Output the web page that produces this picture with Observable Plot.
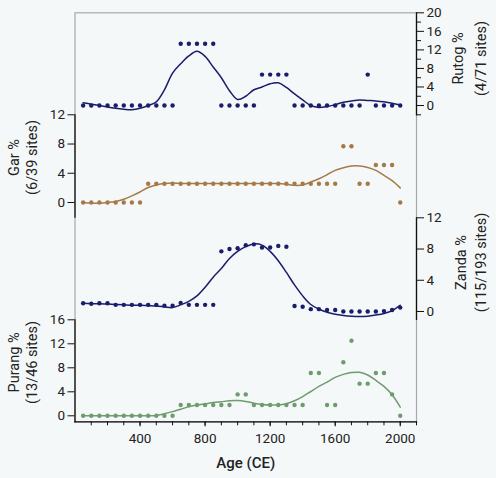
<!DOCTYPE html>
<html><head><meta charset="utf-8">
<script src="https://cdn.jsdelivr.net/npm/d3@7"></script>
<script src="https://cdn.jsdelivr.net/npm/@observablehq/plot@0.6"></script>
<style>
body{margin:0;background:#f5f8f8;}
#chart{position:relative;width:496px;height:478px;background:#f5f8f8;font-family:Roboto,sans-serif;}
#chart svg{position:absolute;left:0;top:0;background:transparent;}
</style></head><body><div id="chart"></div>
<script>
const years = [50,100,150,200,250,300,350,400,450,500,550,600,650,700,750,800,850,900,950,1000,
  1050,1100,1150,1200,1250,1300,1350,1400,1450,1500,1550,1600,1650,1700,1750,1800,1850,1900,1950,2000];

const rutogPct = [0,0,0,0,0,0,0,0,0,0,0,0,13.33,13.33,13.33,13.33,13.33,0,0,0,
  0,0,6.67,6.67,6.67,6.67,0,0,0,0,0,0,0,0,0,6.67,0,0,0,0];
const rutogFit = [0.6,0.3,0.0,-0.3,-0.6,-0.8,-0.9,-0.6,0.0,0.8,3.4,7.0,9.0,10.7,11.7,10.6,8.3,6.0,3.2,1.3,
  2.0,3.4,4.0,4.7,4.9,3.9,2.5,1.2,0.0,-0.4,-0.2,0.2,0.7,1.0,1.2,1.1,1.0,0.8,0.5,0.1];

const garPct = [0,0,0,0,0,0,0,0,2.56,2.56,2.56,2.56,2.56,2.56,2.56,2.56,2.56,2.56,2.56,2.56,
  2.56,2.56,2.56,2.56,2.56,2.56,2.56,2.56,2.56,2.56,2.56,2.56,7.69,7.69,2.56,2.56,5.13,5.13,5.13,0];
const garFit = [0.0,-0.1,-0.1,0.0,0.15,0.45,0.9,1.45,2.05,2.4,2.6,2.65,2.6,2.6,2.6,2.6,2.6,2.6,2.6,2.6,
  2.6,2.6,2.6,2.6,2.6,2.5,2.35,2.4,2.8,3.25,3.8,4.4,4.75,5.0,5.0,4.8,4.4,3.7,3.0,2.0];

const zandaPct = [1.06,1.0,1.06,1.06,0.85,0.85,0.85,0.85,0.85,0.85,0.75,0.75,1.1,0.85,0.85,0.85,0.85,7.7,8.0,8.1,
  8.5,8.6,8.2,8.2,8.4,8.3,0.7,0.6,0.3,0.3,0.2,0.2,0.0,0.0,0.0,0.0,0.0,0.05,0.2,0.5];
const zandaFit = [1.05,1.0,1.0,0.95,0.9,0.85,0.8,0.8,0.75,0.7,0.6,0.5,0.85,1.3,2.0,3.1,4.4,5.5,6.8,7.7,
  8.3,8.65,8.5,7.7,6.5,5.0,3.4,2.0,0.9,0.3,-0.1,-0.35,-0.5,-0.6,-0.65,-0.6,-0.45,-0.25,0.1,0.8];

const purangPct = [0,0,0,0,0,0,0,0,0,0,0,0,1.79,1.79,1.79,1.79,1.79,1.79,1.79,3.57,
  3.57,1.79,1.79,1.79,1.79,1.79,1.79,1.79,7.14,7.14,1.79,1.79,8.93,12.5,5.36,5.36,7.14,7.14,3.57,0];
const purangFit = [0,0,0,0,0,0,0,0,0,0.05,0.35,0.7,1.1,1.5,1.8,2.0,2.2,2.35,2.5,2.55,
  2.4,2.1,1.9,1.8,1.8,2.0,2.5,3.2,4.05,4.9,5.6,6.4,6.9,7.2,7.25,6.8,5.9,4.9,3.5,1.45];

const xMajorTicks = [400,800,1200,1600,2000];
const xMinorTicks = [100,200,300,400,500,600,700,800,900,1000,1100,1200,1300,1400,1500,1600,1700,1800,1900,2000,2100];
const xTitle = "Age (CE)";

const rutogTicks = [0,4,8,12,16,20];
const rutogMinor = [-2,2,6,10,14,18];
const garTicks = [0,4,8,12];
const zandaTicks = [0,4,8,12];
const purangTicks = [0,4,8,12,16];

const rutogTitle = ["Rutog %", "(4/71 sites)"];
const garTitle = ["Gar %", "(6/39 sites)"];
const zandaTitle = ["Zanda %", "(115/193 sites)"];
const purangTitle = ["Purang %", "(13/46 sites)"];

const W = 496, H = 478, ML = 74.5, MR = 80;
const xDomain = [0, 2100];
const fmt = d => String(d);
const styleBase = {background: "transparent", fontFamily: "Roboto, sans-serif", fontSize: "13px", color: "#222"};

function panel(p) {
  const mid = (p.top + p.bottom) / 2;
  const edgeX = p.anchor === "left" ? ML : W - MR;
  const data = years.map((yr, i) => ({year: yr, pct: p.pct[i], fit: p.fit[i]}));
  const titleOpts = i => ({text: d => d, frameAnchor: p.anchor, dx: p.tx[i] - edgeX, dy: p.ty - mid, rotate: -90,
    fontSize: 14.5, fill: "#222", textAnchor: "middle", lineAnchor: "middle"});
  const marks = [
    Plot.frame({anchor: p.anchor, stroke: "#111", strokeWidth: 1.3}),
    Plot.axisY({anchor: p.anchor, ticks: p.major, tickSize: 7, tickPadding: 3, tickFormat: fmt, label: null, fontSize: 13.5, stroke: "#111", fill: "#222"}),
    Plot.line(data, {x: "year", y: "fit", stroke: p.color, strokeWidth: 1.5, curve: "catmull-rom"}),
    Plot.dot(data, {x: "year", y: "pct", r: 2.2, fill: p.color}),
    Plot.text([p.title[0]], titleOpts(0)),
    Plot.text([p.title[1]], titleOpts(1))
  ];
  if (p.minor) marks.push(Plot.axisY({anchor: p.anchor, ticks: p.minor, tickSize: 4, tickFormat: () => "", label: null, stroke: "#111"}));
  return Plot.plot({
    width: W, height: H, marginLeft: ML, marginRight: MR,
    marginTop: p.top, marginBottom: H - p.bottom,
    style: styleBase,
    x: {domain: xDomain, axis: null},
    y: {domain: p.domain},
    marks
  });
}

const base = Plot.plot({
  width: W, height: H, marginLeft: ML, marginRight: MR, marginTop: 12.3, marginBottom: H - 421.3,
  style: styleBase,
  x: {domain: xDomain},
  marks: [
    Plot.frame({stroke: "#a8a8a8", strokeWidth: 1.2}),
    Plot.axisX({ticks: xMinorTicks, tickSize: 4, tickFormat: () => "", label: null, stroke: "#111"}),
    Plot.axisX({ticks: xMajorTicks, tickSize: 5, tickPadding: 7, tickFormat: fmt, label: null, fontSize: 13.5, stroke: "#111", fill: "#222"}),
    Plot.frame({anchor: "bottom", stroke: "#111", strokeWidth: 1.3}),
    Plot.text([xTitle], {text: d => d, frameAnchor: "bottom", dy: 36, lineAnchor: "top", fontSize: 15, fontWeight: 500, fill: "#222"})
  ]
});

const chart = document.getElementById("chart");
chart.appendChild(base);
const navy = "#1b1c6c", brown = "#a67a48", green = "#6f9c6f";
chart.appendChild(panel({top: 12.3, bottom: 114.3, domain: [-2, 20], anchor: "right", major: rutogTicks, minor: rutogMinor,
  pct: rutogPct, fit: rutogFit, color: navy, title: rutogTitle, tx: [458, 481], ty: 58}));
chart.appendChild(panel({top: 114.3, bottom: 216.6, domain: [-2, 12], anchor: "left", major: garTicks,
  pct: garPct, fit: garFit, color: brown, title: garTitle, tx: [14, 32], ty: 157}));
chart.appendChild(panel({top: 217.3, bottom: 318.8, domain: [-1, 12], anchor: "right", major: zandaTicks,
  pct: zandaPct, fit: zandaFit, color: navy, title: zandaTitle, tx: [461, 481], ty: 262}));
chart.appendChild(panel({top: 319.3, bottom: 421.3, domain: [-1, 16], anchor: "left", major: purangTicks,
  pct: purangPct, fit: purangFit, color: green, title: purangTitle, tx: [14, 32], ty: 362}));
</script></body></html>
